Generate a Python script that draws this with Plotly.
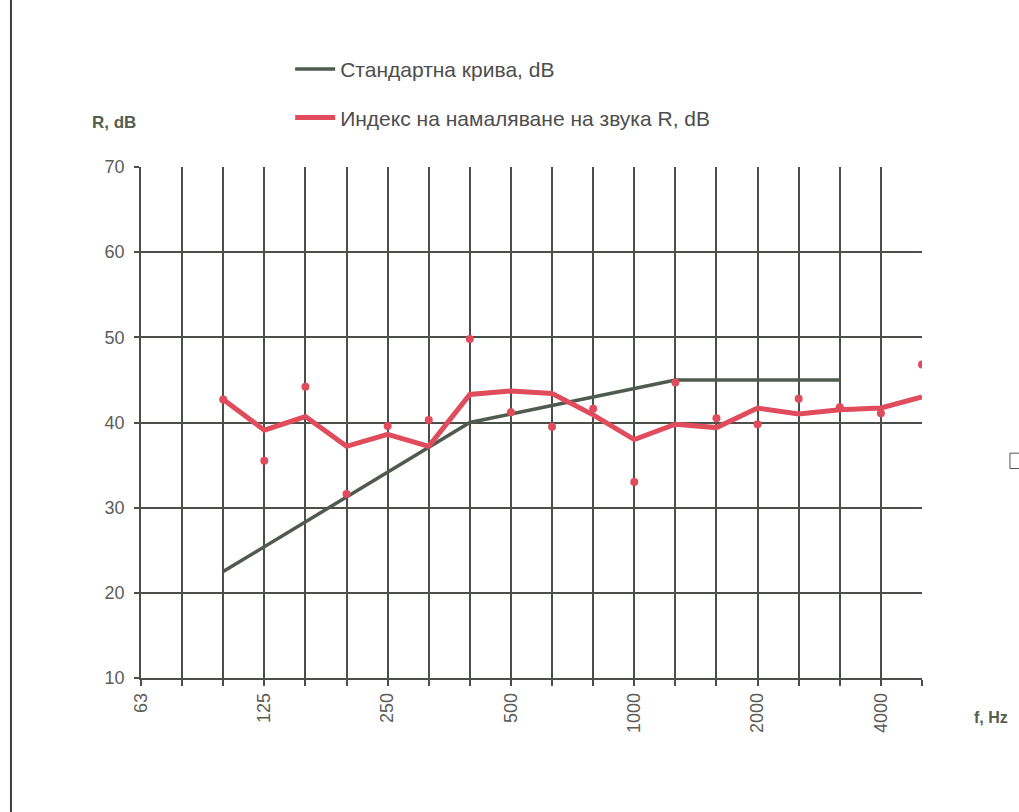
import plotly.graph_objects as go

bands = ["63", "80", "100", "125", "160", "200", "250", "315", "400", "500", "630",
         "800", "1000", "1250", "1600", "2000", "2500", "3150", "4000", "5000"]
tick_labels = ["63", "", "", "125", "", "", "250", "", "", "500", "", "", "1000", "", "", "2000", "", "", "4000", ""]

std_freq = ["100", "125", "160", "200", "250", "315", "400", "500", "630", "800", "1000",
            "1250", "1600", "2000", "2500", "3150"]
std_values = [22.5, 25.4, 28.3, 31.2, 34.2, 37.1, 40.0, 41.0, 42.0, 43.0, 44.0,
              45.0, 45.0, 45.0, 45.0, 45.0]

r_freq = ["100", "125", "160", "200", "250", "315", "400", "500", "630", "800", "1000",
          "1250", "1600", "2000", "2500", "3150", "4000", "5000"]
r_line = [42.7, 39.1, 40.7, 37.2, 38.6, 37.2, 43.3, 43.7, 43.4, 40.9, 38.0,
          39.8, 39.4, 41.7, 41.0, 41.5, 41.7, 43.0]
r_points = [42.7, 35.5, 44.2, 31.6, 39.6, 40.3, 49.8, 41.2, 39.5, 41.6, 33.0,
            44.7, 40.5, 39.8, 42.8, 41.8, 41.1, 46.8]

FONT = "Liberation Sans, Arial, sans-serif"
TXT = "#4d4d4d"
TICK = "#5c5c58"
GRID = "#4a4f4a"

fig = go.Figure()
fig.add_trace(go.Scatter(
    x=std_freq, y=std_values, mode="lines", name="Стандартна крива, dB",
    line=dict(color="#4f5b4f", width=3.5), legendgroup="a"))
fig.add_trace(go.Scatter(
    x=r_freq, y=r_line, mode="lines", name="Индекс на намаляване на звука R, dB",
    line=dict(color="#e04c5c", width=5), legendgroup="b"))
fig.add_trace(go.Scatter(
    x=r_freq, y=r_points, mode="markers", showlegend=False,
    marker=dict(color="#e04c5c", size=8), legendgroup="b"))

fig.update_layout(
    width=1019, height=812,
    margin=dict(l=141, r=97, t=167, b=134),
    paper_bgcolor="white", plot_bgcolor="white",
    font=dict(family=FONT, color=TXT),
    showlegend=True,
    legend=dict(x=0.191, y=1.231, xanchor="left", yanchor="top",
                font=dict(size=21, color=TXT, family=FONT),
                bgcolor="rgba(0,0,0,0)", tracegroupgap=18, itemwidth=40),
    xaxis=dict(
        type="category", categoryorder="array", categoryarray=bands,
        range=[0, len(bands) - 1],
        tickmode="array", tickvals=bands, ticktext=tick_labels,
        tickangle=-90, tickfont=dict(size=18, color=TICK),
        showgrid=True, gridcolor=GRID, gridwidth=1.6,
        showline=True, linecolor=GRID, linewidth=1.6,
        ticks="outside", ticklen=6, tickcolor=GRID, tickwidth=1.5,
        zeroline=False),
    yaxis=dict(
        range=[10, 70], dtick=10, tick0=10,
        tickfont=dict(size=18, color=TICK), ticklabelstandoff=6,
        showgrid=True, gridcolor=GRID, gridwidth=1.6,
        showline=True, linecolor=GRID, linewidth=1.6,
        ticks="outside", ticklen=5, tickcolor=GRID, tickwidth=1.5,
        zeroline=False),
    annotations=[
        dict(text="<b>R, dB</b>", xref="paper", yref="paper", x=-0.035, y=1.087,
             showarrow=False, font=dict(size=17, color="#555f50"), xanchor="center", yanchor="middle"),
        dict(text="<b>f, Hz</b>", xref="paper", yref="paper", x=1.088, y=-0.078,
             showarrow=False, font=dict(size=16, color="#555f50"), xanchor="center", yanchor="middle"),
    ],
    shapes=[
        dict(type="line", xref="paper", yref="paper", x0=-0.1665, x1=-0.1665, y0=-0.27, y1=1.33,
             line=dict(color="#3a403a", width=2)),
        dict(type="rect", xref="paper", yref="paper", x0=1.1126, x1=1.126, y0=0.41, y1=0.44,
             line=dict(color="#555", width=1)),
    ],
)

fig.write_html("out.html", config={"displayModeBar": False})

with open("out.html", "r", encoding="utf-8") as f:
    html = f.read()
html = html.replace("<head>", "<head><style>html,body{margin:0;padding:0;overflow:hidden;}</style>", 1)
with open("out.html", "w", encoding="utf-8") as f:
    f.write(html)
